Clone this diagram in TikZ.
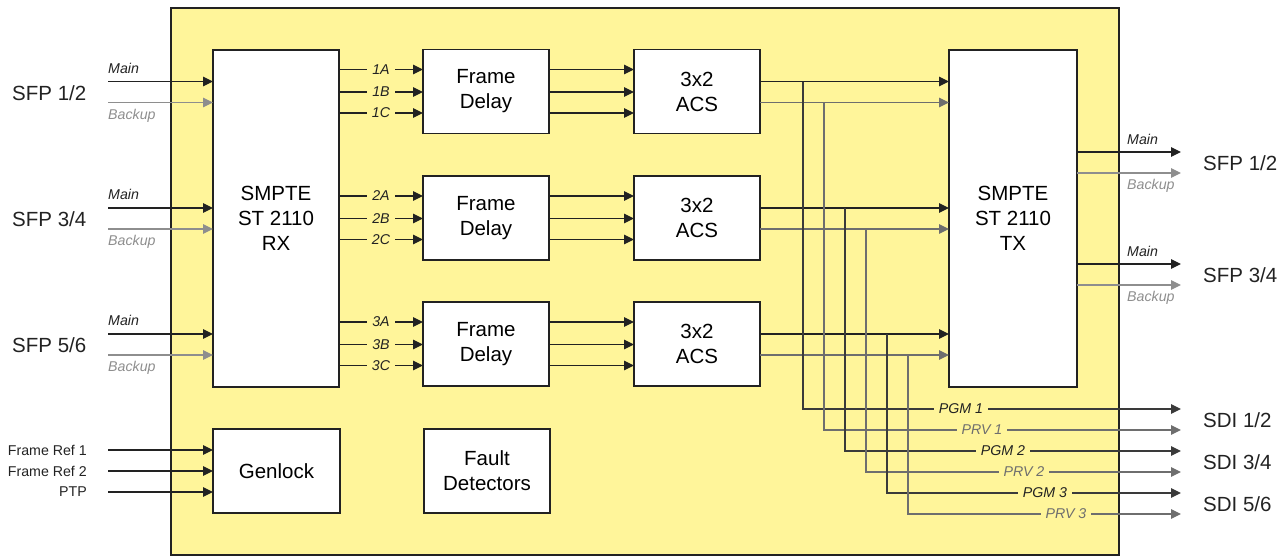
\documentclass[tikz,border=0pt]{standalone}
\usepackage{fontspec}
\setmainfont{Liberation Sans}
\usetikzlibrary{arrows.meta}
\definecolor{panel}{HTML}{FFF59A}
\definecolor{ink}{HTML}{222222}
\definecolor{pgmc}{HTML}{3A3A3A}
\definecolor{prvc}{HTML}{6E6E6E}
\definecolor{bkpc}{HTML}{8E8E8E}

\begin{document}
\begin{tikzpicture}[x=1pt,y=-1pt,
  blk/.style={draw=ink,fill=white,line width=1.3pt,inner sep=0pt,outer sep=0pt,
    minimum width=126pt,minimum height=84pt,align=center,
    font=\fontsize{20.5}{25}\selectfont},
  big/.style={font=\fontsize{20.5}{24}\selectfont,inner sep=0pt,anchor=west,text=ink},
  tag/.style={font=\fontsize{14.2}{16}\selectfont\itshape,inner sep=0pt,anchor=west,text=ink},
  btag/.style={tag,text=bkpc},
  chan/.style={font=\fontsize{14.2}{16}\selectfont\itshape,fill=panel,inner xsep=5pt,inner ysep=1pt,text=ink},
  arr/.style={draw=ink,line width=1.2pt,-{Triangle[length=10pt,width=9.5pt]}},
  barr/.style={arr,draw=bkpc},
  parr/.style={arr,draw=prvc},
  garr/.style={arr,draw=pgmc}]
\useasboundingbox (0,0) rectangle (1286,557);
% 1 unit = 1 px of the 1286 x 557 layout, y grows downwards
\draw[draw=ink,fill=panel,line width=1.3pt] (171,8) rectangle (1119,555);

\node[blk,minimum height=337pt] (rx) at (276,218.5) {SMPTE\\ST 2110\\RX};
\node[blk,minimum width=128pt,minimum height=337pt] (tx) at (1013,218.5) {SMPTE\\ST 2110\\TX};
\node[blk,minimum width=127pt] (gen) at (276.5,471) {Genlock};
\node[blk] (fault) at (487,471) {Fault\\Detectors};
\foreach \r/\yc in {1/91.5, 2/218, 3/344} {
  \node[blk] (fd\r) at (486,\yc) {Frame\\Delay};
  \node[blk] (acs\r) at (697,\yc) {3x2\\ACS};
}

% inputs
\foreach \r/\yc/\lab in {1/91.5/{SFP 1/2}, 2/218/{SFP 3/4}, 3/344/{SFP 5/6}} {
  \coordinate (inM\r) at (108,{\yc-10});
  \coordinate (inB\r) at (108,{\yc+11});
  \draw[arr] (inM\r) -- (rx.west |- inM\r);
  \draw[barr] (inB\r) -- (rx.west |- inB\r);
  \node[tag] at (108,{\yc-23.5}) {Main};
  \node[btag] at (108,{\yc+24}) {Backup};
  \node[big] (sfpin\r) at (12,{\yc+1.5}) {\lab};
}

% streams RX -> delay -> ACS
\foreach \r/\yc in {1/91.5, 2/218, 3/344} {
  \foreach \c/\d in {A/-22, B/0.5, C/21.5} {
    \draw[arr] (rx.east |- 0,{\yc+(\d)}) -- (fd\r.west |- 0,{\yc+(\d)})
      node[chan,midway] {\r\c};
    \draw[arr] (fd\r.east |- 0,{\yc+(\d)}) -- (acs\r.west |- 0,{\yc+(\d)});
  }
  \draw[arr] (acs\r.east |- 0,{\yc-10}) -- (tx.west |- 0,{\yc-10});
  \draw[parr] (acs\r.east |- 0,{\yc+11}) -- (tx.west |- 0,{\yc+11});
}

% SDI taps
\foreach \r/\yc in {1/91.5, 2/218, 3/344} {
  \pgfmathsetmacro{\xm}{803+42*(\r-1)}
  \pgfmathsetmacro{\ym}{409+42*(\r-1)}
  \coordinate (tapM\r) at (\xm,{\yc-10});
  \coordinate (tapB\r) at ({\xm+21},{\yc+11});
  \coordinate (pgm\r) at (1181,\ym);
  \coordinate (prv\r) at (1181,{\ym+21});
  \draw[garr] (tapM\r) |- (pgm\r);
  \draw[parr] (tapB\r) |- (prv\r);
  \node[chan] at ({\xm+158},\ym) {PGM \r};
  \node[chan,text=prvc] at ({\xm+179},{\ym+21}) {PRV \r};
}
\node[big] (sdi1) at (1203,420) {SDI 1/2};
\node[big] (sdi2) at (1203,462) {SDI 3/4};
\node[big] (sdi3) at (1203,504) {SDI 5/6};

% TX outputs
\foreach \r/\ym/\lab in {1/152/{SFP 1/2}, 2/264/{SFP 3/4}} {
  \coordinate (outM\r) at (1181,\ym);
  \coordinate (outB\r) at (1181,{\ym+21});
  \draw[arr] (tx.east |- outM\r) -- (outM\r);
  \draw[barr] (tx.east |- outB\r) -- (outB\r);
  \node[tag] at (1127,{\ym-13}) {Main};
  \node[btag] at (1127,{\ym+34}) {Backup};
  \node[big] (sfpout\r) at (1203,{\ym+11}) {\lab};
}

% references
\foreach \y/\lab in {450/Frame Ref 1, 471/Frame Ref 2, 492/PTP} {
  \coordinate (ref) at (108,\y);
  \draw[arr] (ref) -- (gen.west |- ref);
  \node[font=\fontsize{14.2}{16}\selectfont,text=ink,inner sep=0pt,anchor=east] at (87,\y) {\lab};
}
\end{tikzpicture}
\end{document}
